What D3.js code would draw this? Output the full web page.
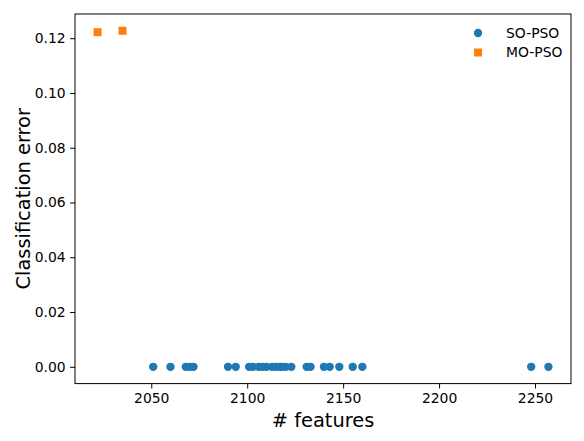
<!DOCTYPE html>
<html><head><meta charset="utf-8">
<script src="https://cdn.jsdelivr.net/npm/d3@7"></script>
<style>body{margin:0;background:#fff}svg{display:block}text{font-family:"DejaVu Sans",sans-serif}</style>
</head><body><div id="chart"></div>
<script>
const soFeatures = [2051, 2060, 2068, 2070, 2072, 2090, 2094, 2101, 2103, 2106, 2108, 2110, 2113, 2115, 2117, 2118, 2120, 2123, 2131, 2133, 2140, 2143, 2148, 2155, 2160, 2248, 2257];
const soError = soFeatures.map(() => 0);
const moFeatures = [2022, 2035];
const moError = [0.1222, 0.1227];
const xTicks = [2050, 2100, 2150, 2200, 2250];
const yTicks = [0, 0.02, 0.04, 0.06, 0.08, 0.10, 0.12];
const seriesNames = ["SO-PSO", "MO-PSO"];
const colors = ["#1f77b4", "#ff7f0e"];

const W = 584, H = 441;
const m = {left: 75, top: 14, width: 496, height: 369.6};
const svg = d3.select("#chart").append("svg").attr("width", W).attr("height", H);

const allX = soFeatures.concat(moFeatures);
const allY = soError.concat(moError);
const xmin = d3.min(allX), xmax = d3.max(allX), xr = xmax - xmin;
const ymin = d3.min(allY), ymax = d3.max(allY), yr = ymax - ymin;
const x = d3.scaleLinear().domain([xmin - 0.05 * xr, xmax + 0.05 * xr]).range([m.left, m.left + m.width]);
const y = d3.scaleLinear().domain([ymin - 0.05 * yr, ymax + 0.05 * yr]).range([m.top + m.height, m.top]);

const xAxis = svg.append("g").attr("transform", `translate(0,${m.top + m.height})`)
  .call(d3.axisBottom(x).tickValues(xTicks).tickFormat(d3.format("d")).tickSize(4.9).tickPadding(4.5));
const yAxis = svg.append("g").attr("transform", `translate(${m.left},0)`)
  .call(d3.axisLeft(y).tickValues(yTicks).tickFormat(d3.format(".2f")).tickSize(4.9).tickPadding(4.5));
[xAxis, yAxis].forEach(g => {
  g.select(".domain").remove();
  g.selectAll("line").attr("stroke", "#000").attr("stroke-width", 1);
  g.selectAll("text").attr("fill", "#000").style("font-size", "13.9px").style("font-family", "DejaVu Sans");
});

// frame
svg.append("rect").attr("x", m.left).attr("y", m.top).attr("width", m.width).attr("height", m.height)
  .attr("fill", "none").attr("stroke", "#000").attr("stroke-width", 1);

const r = 4.17;
svg.append("g").selectAll("circle").data(soFeatures).join("circle")
  .attr("cx", d => x(d)).attr("cy", (d, i) => y(soError[i])).attr("r", r).attr("fill", colors[0]);
const s = 8;
svg.append("g").selectAll("rect").data(moFeatures).join("rect")
  .attr("x", d => x(d) - s / 2).attr("y", (d, i) => y(moError[i]) - s / 2)
  .attr("width", s).attr("height", s).attr("fill", colors[1]);

// axis labels
svg.append("text").attr("x", m.left + m.width / 2).attr("y", 427).attr("text-anchor", "middle")
  .style("font-size", "19.4px").text("# features");
svg.append("text").attr("transform", `translate(30,${m.top + m.height / 2}) rotate(-90)`)
  .attr("text-anchor", "middle").style("font-size", "19.4px").text("Classification error");

// legend
const lg = svg.append("g");
seriesNames.forEach((name, i) => {
  const ly = 33 + i * 19.5;
  if (i === 0) lg.append("circle").attr("cx", 478).attr("cy", ly).attr("r", r).attr("fill", colors[i]);
  else lg.append("rect").attr("x", 478 - s / 2).attr("y", ly - s / 2).attr("width", s).attr("height", s).attr("fill", colors[i]);
  lg.append("text").attr("x", 506).attr("y", ly).attr("dy", "0.35em").style("font-size", "13.9px").text(name);
});
</script></body></html>
